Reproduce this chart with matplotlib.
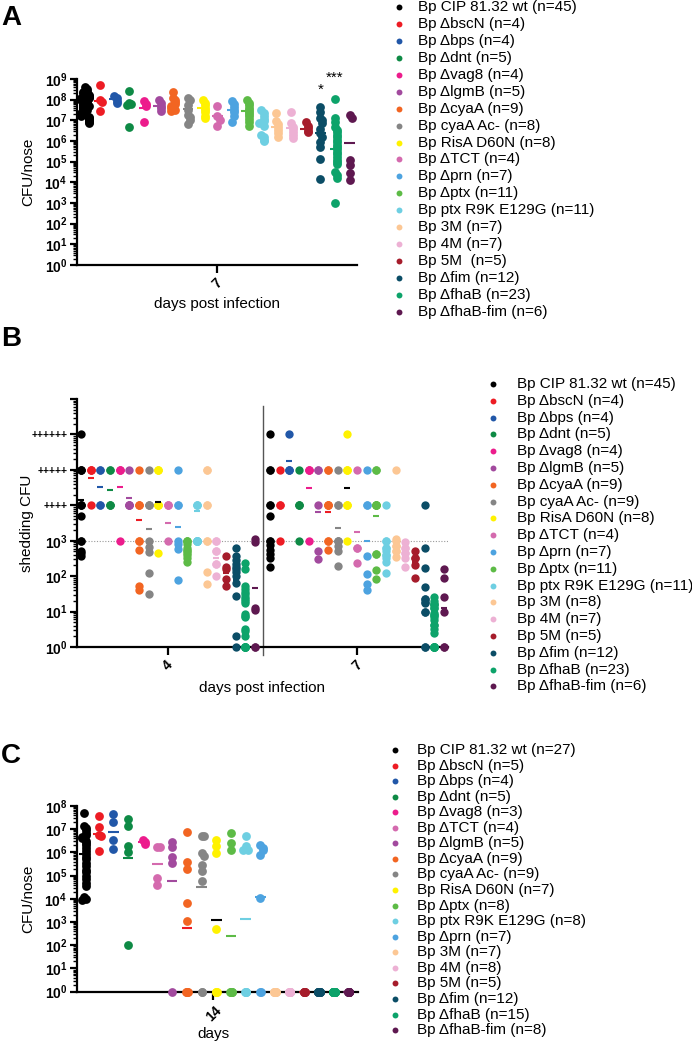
"""Bp strains: nasal colonisation (A, C) and shedding (B) dot plots."""

import numpy as np
import matplotlib
matplotlib.use("Agg")

import matplotlib.pyplot as plt
import matplotlib.transforms as mtransforms
from matplotlib.ticker import LogLocator, NullFormatter

plt.rcParams["font.family"] = ["Liberation Sans", "DejaVu Sans"]
plt.rcParams["mathtext.fontset"] = "custom"
plt.rcParams["mathtext.rm"] = "Liberation Sans:bold"
plt.rcParams["mathtext.it"] = "Liberation Sans:bold"
plt.rcParams["mathtext.bf"] = "Liberation Sans:bold"
plt.rcParams["mathtext.default"] = "rm"

# ── strains / colours ───────────────────────────────────────────────
STRAINS = ["Bp CIP 81.32 wt", "Bp ΔbscN", "Bp Δbps", "Bp Δdnt", "Bp Δvag8",
           "Bp ΔlgmB", "Bp ΔcyaA", "Bp cyaA Ac-", "Bp RisA D60N", "Bp ΔTCT",
           "Bp Δprn", "Bp Δptx", "Bp ptx R9K E129G", "Bp 3M", "Bp 4M",
           "Bp 5M", "Bp Δfim", "Bp ΔfhaB", "Bp ΔfhaB-fim"]
COLORS = ["#000000", "#ED1C24", "#2157A8", "#0E8A45", "#EC1C8C",
          "#A24A9E", "#F26522", "#858585", "#FFF200", "#D46AAE",
          "#4DA3E0", "#5DBB46", "#6ECFE2", "#FCC794", "#EDB1D4",
          "#A61C2B", "#0B4D66", "#0DA36A", "#5E1850"]
# in B and C the mean bar of two strains is drawn in another colour
MEAN_COLORS = list(COLORS)
MEAN_COLORS[6] = "#ED1C24"
MEAN_COLORS[8] = "#000000"

# ── panel A: CFU/nose day 7 (log10) ────────────────────────────────
A_N = [45, 4, 4, 5, 4, 5, 9, 8, 8, 4, 7, 11, 11, 7, 7, 5, 12, 23, 6]
A_VALUES = [
    [8.62, 8.5, 8.42, 8.35, 8.3, 8.25, 8.2, 8.15, 8.1, 8.08, 8.05, 8.0, 7.98,
     7.95, 7.92, 7.9, 7.87, 7.85, 7.82, 7.8, 7.78, 7.75, 7.72, 7.7, 7.68, 7.65,
     7.62, 7.6, 7.57, 7.55, 7.5, 7.45, 7.42, 7.38, 7.35, 7.3, 7.25, 7.2, 7.15,
     7.1, 7.05, 7.0, 6.95, 6.9, 6.85],
    [8.7, 7.98, 7.9, 7.45],
    [8.2, 8.06, 7.95, 7.82],
    [8.44, 7.85, 7.78, 7.72, 6.66],
    [7.95, 7.8, 7.7, 6.92],
    [7.98, 7.85, 7.7, 7.58, 7.45],
    [8.37, 8.1, 8.0, 7.88, 7.78, 7.7, 7.6, 7.5, 7.45],
    [8.1, 7.98, 7.72, 7.5, 7.28, 7.15, 7.0, 6.8],
    [7.98, 7.85, 7.72, 7.6, 7.48, 7.38, 7.22, 7.1],
    [7.7, 7.2, 7.02, 6.75],
    [7.92, 7.8, 7.65, 7.5, 7.38, 7.2, 6.9],
    [8.0, 7.85, 7.72, 7.6, 7.5, 7.4, 7.3, 7.2, 7.05, 6.9, 6.75],
    [7.5, 7.35, 7.2, 7.05, 6.95, 6.88, 6.75, 6.3, 6.18, 6.05, 5.98],
    [7.35, 6.95, 6.8, 6.7, 6.55, 6.38, 6.2],
    [7.38, 6.85, 6.68, 6.58, 6.42, 6.3, 6.15],
    [6.9, 6.75, 6.62, 6.5, 6.42],
    [7.63, 7.42, 7.1, 7.0, 6.85, 6.6, 6.37, 6.2, 5.95, 5.7, 5.14, 4.16],
    [8.03, 7.1, 6.9, 6.7, 6.55, 6.42, 6.3, 6.2, 6.05, 5.95, 5.82, 5.7, 5.6,
     5.48, 5.35, 5.25, 5.1, 5.0, 4.9, 4.5, 4.35, 4.2, 2.98],
    [7.26, 7.11, 5.08, 4.84, 4.45, 4.11],
]
A_MEANS = [7.7, 7.95, 8.03, 7.75, 7.6, 7.7, 7.75, 7.53, 7.6, 7.2, 7.5, 7.45,
           6.85, 6.7, 6.65, 6.6, 6.37, 5.6, 5.89]
A_STARS = {16: ("*", 8.28), 17: ("***", 8.86)}

# ── panel B: shedding CFU, days 4 and 7 (log10) ─────────────────────
B_N = [45, 4, 4, 5, 4, 5, 9, 9, 8, 4, 7, 11, 11, 8, 7, 5, 12, 23, 6]
B_DAYS = ["4", "7"]
B_DAY4 = [
    [6, 5, 5, 5, 4, 4, 4, 3.69, 3, 3, 2.72, 2.65, 2.57],
    [5, 5, 5, 4],
    [5, 5, 4, 4],
    [5, 5, 4, 4, 4],
    [5, 5, 5, 3],
    [5, 4, 4, 4, 4],
    [5, 4, 4, 4, 3, 3, 2.75, 1.72, 1.62],
    [5, 4, 4, 4, 3, 2.83, 2.67, 2.09, 1.5],
    [5, 5, 5, 4, 4, 4, 4, 2.66],
    [4, 4, 4, 3],
    [5, 4, 4, 3, 2.9, 2.78, 1.88],
    [3, 3, 3, 2.9, 2.8, 2.74, 2.7, 2.65, 2.6, 2.5, 2.39],
    [4, 4, 4, 3, 3, 3, 3, 3, 3, 3, 3],
    [5, 5, 4, 4, 3, 3, 2.12, 1.78],
    [3, 3, 2.7, 2.7, 2.35, 2.35, 2.0],
    [2.56, 2.25, 2.2, 1.92, 1.73],
    [2.8, 2.56, 2.45, 2.35, 2.27, 2.2, 2.13, 2.0, 1.8, 1.45, 0.3, 0],
    [2.37, 2.2, 1.72, 1.65, 1.55, 1.5, 1.42, 1.35, 1.3, 1.25, 0.92, 0.88,
     0.85, 0.5, 0.45, 0.3, 0, 0, 0, 0, 0, 0, 0],
    [3.05, 2.95, 1.1, 1.05, 0, 0],
]
B_DAY7 = [
    [6, 5, 5, 4, 4, 3.7, 3, 3, 2.88, 2.74, 2.63, 2.5, 2.25],
    [5, 4, 4, 3],
    [6, 5, 5, 5],
    [5, 4, 4, 4, 3],
    [5, 5, 5, 3],
    [5, 5, 4, 2.71, 2.48],
    [5, 5, 4, 4, 4, 4, 3, 3, 2.75],
    [5, 4, 4, 3, 3, 3, 2.85, 2.7, 2.3],
    [6, 5, 5, 5, 4, 4, 4, 3],
    [5, 2.8, 2.79, 2.36],
    [5, 4, 4, 2.57, 2.05, 1.78, 1.61],
    [5, 5, 4, 4, 4, 4, 4, 2.62, 2.62, 2.16, 1.91],
    [4, 3, 3, 2.8, 2.8, 2.7, 2.6, 2.6, 2.5, 2.4, 2.1],
    [5, 3.05, 3, 2.85, 2.85, 2.7, 2.7, 2.55],
    [2.95, 2.8, 2.8, 2.65, 2.65, 2.5, 2.25],
    [2.72, 2.5, 2.5, 2.32, 1.96],
    [4, 2.8, 2.22, 1.68, 1.35, 1.35, 1.28, 1.25, 1.0, 1.0, 0, 0],
    [1.42, 1.3, 1.22, 1.22, 1.19, 1.1, 1.1, 0.95, 0.9, 0.9, 0.85, 0.75, 0.62,
     0.62, 0.5, 0.39, 0, 0, 0, 0, 0, 0, 0],
    [2.2, 1.94, 1.42, 1.0, 0, 0],
]
B_MEANS4 = [4.15, 4.77, 4.51, 4.42, 4.51, 4.21, 3.58, 3.34, 4.1, 3.5, 3.4,
            2.75, 3.84, 3.0, 2.5, 2.1, 1.9, 0.9, 1.67]
B_MEANS7 = [3.7, 4.0, 5.25, 4.0, 4.5, 3.82, 3.82, 3.35, 4.5, 3.24, 3.0, 3.7,
            2.8, 3.0, 2.6, 2.4, 1.7, 0.6, 1.1]
B_YLABELS = ["$10^{0}$", "$10^{1}$", "$10^{2}$", "$10^{3}$",
             "++++", "+++++", "++++++", ""]

# ── panel C: CFU/nose day 14 (log10), its own strain order ─────────
C_ORDER = [0, 1, 2, 3, 4, 9, 5, 6, 7, 8, 11, 12, 10, 13, 14, 15, 16, 17, 18]
C_N = [27, 5, 4, 5, 3, 4, 5, 9, 9, 7, 8, 8, 7, 7, 8, 5, 12, 15, 8]
C_VALUES = [
    [7.7, 7.15, 7.05, 6.95, 6.85, 6.75, 6.68, 6.6, 6.5, 6.4, 6.3, 6.2, 6.05,
     5.95, 5.8, 5.7, 5.55, 5.4, 5.25, 5.15, 5.0, 4.85, 4.7, 4.55, 4.1, 4.0,
     3.95],
    [7.55, 7.08, 6.76, 6.7, 6.04],
    [7.65, 7.3, 6.55, 6.14],
    [7.44, 7.12, 6.29, 6.0, 2.01],
    [6.55, 6.45, 6.37],
    [6.23, 6.23, 4.89, 4.6],
    [6.47, 6.22, 5.8, 5.54, 0],
    [6.88, 5.57, 5.28, 3.81, 3.05, 0, 0, 0, 0],
    [6.69, 6.69, 5.97, 5.83, 5.44, 5.22, 4.78, 0, 0],
    [6.55, 6.26, 5.97, 2.69, 0, 0, 0],
    [6.83, 6.4, 6.12, 0, 0, 0, 0, 0],
    [6.69, 6.26, 6.12, 6.09, 0, 0, 0, 0],
    [6.32, 6.19, 6.1, 5.87, 4.05, 0, 0],
    [0] * 7,
    [0] * 8,
    [0] * 5,
    [0] * 12,
    [0] * 15,
    [0] * 8,
]
C_MEANS = [5.95, 6.79, 6.9, 5.76, 6.46, 5.5, 4.79, 2.73, 4.5, 3.09, 2.42,
           3.15, 4.07, 0, 0, 0, 0, 0, 0]

# ── figure layout (pixels) ──────────────────────────────────────────
W, H = 692, 1044
fig = plt.figure(figsize=(W / 100, H / 100), dpi=100)
fig.patch.set_facecolor("white")


def px_rect(left, top, right, bottom):
    return [left / W, 1 - bottom / H, (right - left) / W, (bottom - top) / H]


def swarm_offsets(logs, px_dec, px_unit, near=4.0, step=2.2):
    """Small GraphPad-like horizontal spread for points that crowd."""
    logs = np.asarray(logs, float)
    offs = np.zeros(len(logs))
    pattern = [0, 1, -1, 2, -2]
    placed = []
    for idx in np.argsort(-logs, kind="stable"):
        y = logs[idx] * px_dec
        k = sum(1 for yy in placed if abs(yy - y) < near)
        if logs[idx] == 0:          # detection limit: keep the pile narrow
            offs[idx] = [0, 0.7, -0.7][k % 3] / px_unit
        else:
            offs[idx] = pattern[k % len(pattern)] * step / px_unit
        placed.append(y)
    return offs


def style_axes(ax, top, ylabels):
    for s in ("top", "right"):
        ax.spines[s].set_visible(False)
    for s in ("left", "bottom"):
        ax.spines[s].set_linewidth(1.6)
    ax.set_facecolor("none")
    ax.set_yscale("log")
    ax.set_ylim(1, 10 ** top)
    ax.set_yticks([10.0 ** k for k in range(top + 1)], labels=ylabels)
    ax.yaxis.set_minor_locator(LogLocator(base=10, subs=np.arange(2, 10),
                                          numticks=100))
    ax.yaxis.set_minor_formatter(NullFormatter())
    ax.tick_params(axis="both", which="major", length=5, width=1.6,
                   labelsize=10, pad=2)
    ax.tick_params(axis="y", which="minor", length=3, width=1.0)
    ax.tick_params(axis="x", length=6)


def draw_groups(ax, xs, values, means, colors, mcolors, size, half,
                px_dec=None, px_unit=None):
    for x, vals, m, c, mc in zip(xs, values, means, colors, mcolors):
        v = np.asarray(vals, float)
        if px_dec is None:
            off = np.zeros_like(v)
        else:
            off = swarm_offsets(v, px_dec, px_unit)
        ax.scatter(x + off, 10 ** v, s=size, color=c, linewidths=0,
                   zorder=3, clip_on=False)
        ax.plot([x - half, x + half], [10 ** m, 10 ** m], color=mc, lw=1.5,
                solid_capstyle="butt", zorder=4, clip_on=False)


def legend(lax, x_dot, x_text, y0, dy, labels, colors):
    for i, (lab, c) in enumerate(zip(labels, colors)):
        y = y0 + i * dy
        lax.scatter([x_dot], [y], s=18, color=c, linewidths=0)
        lax.text(x_text, y, lab, fontsize=11, va="center", ha="left")


def fig_text(x, y, s, **kw):
    fig.text(x / W, 1 - y / H, s, **kw)


# ── A ───────────────────────────────────────────────────────────────
axA = fig.add_axes(px_rect(77, 79, 357, 265))
style_axes(axA, 9, ["$10^{%d}$" % k for k in range(10)])
axA.set_xlim(-0.544, 18.5)
xa = np.arange(len(STRAINS))
draw_groups(axA, xa, A_VALUES, A_MEANS, COLORS, COLORS, 40, 0.36,
            px_dec=186 / 9, px_unit=14.7)
axA.set_xticks([9], labels=["7"], rotation=45, fontweight="bold")
for gi, (txt, ylog) in A_STARS.items():
    axA.text(xa[gi], 10 ** ylog, txt, ha="center", va="baseline",
             fontsize=11, clip_on=False)

# ── B ───────────────────────────────────────────────────────────────
axB = fig.add_axes(px_rect(77, 399, 448, 647))
style_axes(axB, 7, B_YLABELS)
for lab in axB.get_yticklabels()[4:7]:
    lab.set_fontsize(7.5)
    lab.set_fontweight("bold")
axB.set_xlim(-0.41, 37.95)
day_offset = [0.0, 19.545]
for off, vals, means in zip(day_offset, [B_DAY4, B_DAY7], [B_MEANS4, B_MEANS7]):
    draw_groups(axB, xa + off, vals, means, COLORS, MEAN_COLORS, 36, 0.32)
axB.set_xticks([off + 9 for off in day_offset], labels=B_DAYS, rotation=45,
               fontweight="bold")
axB.axhline(1e3, color="#9A9A9A", lw=0.8, ls=(0, (1, 1.5)), zorder=1)
trans = mtransforms.blended_transform_factory(axB.transData, axB.transAxes)
sep = (xa[-1] + day_offset[1]) / 2
axB.plot([sep, sep], [-0.032, 0.972], color="#555555", lw=1.0,
         transform=trans, clip_on=False, zorder=2)

# ── C ───────────────────────────────────────────────────────────────
axC = fig.add_axes(px_rect(77, 806, 358, 991.7))
style_axes(axC, 8, ["$10^{%d}$" % k for k in range(9)])
axC.set_xlim(-0.476, 18.64)
c_colors = [COLORS[i] for i in C_ORDER]
c_mcolors = [MEAN_COLORS[i] for i in C_ORDER]
draw_groups(axC, xa, C_VALUES, C_MEANS, c_colors, c_mcolors, 40, 0.36,
            px_dec=185.7 / 8, px_unit=14.7)
axC.set_xticks([8.8], labels=["14"], rotation=45, fontweight="bold")

# ── labels ──────────────────────────────────────────────────────────
for letter, yb in (("A", 25), ("B", 346), ("C", 763)):
    fig_text(1, yb, letter, fontsize=20, fontweight="bold", va="baseline")

fig_text(28, 172, "CFU/nose", fontsize=11, rotation=90, ha="center", va="center")
fig_text(217, 304, "days post infection", fontsize=11, ha="center", va="center")
fig_text(27, 523, "shedding CFU", fontsize=11, rotation=90, ha="center", va="center")
fig_text(262, 688, "days post infection", fontsize=11, ha="center", va="center")
fig_text(28, 899, "CFU/nose", fontsize=11, rotation=90, ha="center", va="center")
fig_text(213, 1034, "days", fontsize=11, ha="center", va="center")

# ── legends ─────────────────────────────────────────────────────────
lax = fig.add_axes([0, 0, 1, 1])
lax.set_xlim(0, W)
lax.set_ylim(H, 0)
lax.axis("off")

a_labels = [f"{s} (n={n})" for s, n in zip(STRAINS, A_N)]
a_labels[15] = f"{STRAINS[15]}  (n={A_N[15]})"
b_labels = [f"{s} (n={n})" for s, n in zip(STRAINS, B_N)]
c_labels = [f"{STRAINS[i]} (n={n})" for i, n in zip(C_ORDER, C_N)]

legend(lax, 399, 418, 7, 16.94, a_labels, COLORS)
legend(lax, 493, 517, 384, 16.8, b_labels, COLORS)
legend(lax, 395, 417, 750, 15.56, c_labels, c_colors)

fig.savefig("out.png", dpi=100, facecolor="white")
